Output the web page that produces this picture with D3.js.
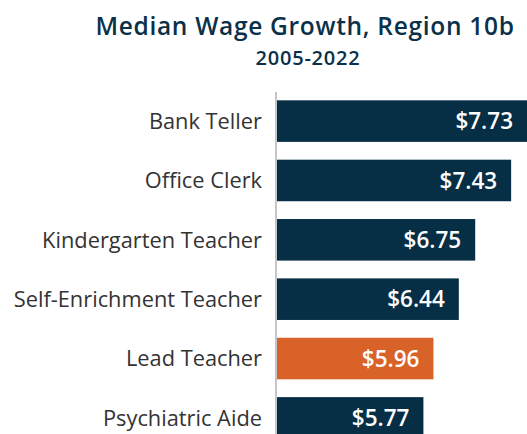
<!DOCTYPE html>
<html>
<head>
<meta charset="utf-8">
<script src="https://cdn.jsdelivr.net/npm/d3@7"></script>
<style>
  html, body { margin: 0; padding: 0; background: #fff; }
  svg { display: block; font-family: "Open Sans", sans-serif; }
</style>
</head>
<body>
<svg id="chart" width="527" height="434"></svg>
<script>
const categories = ["Bank Teller", "Office Clerk", "Kindergarten Teacher", "Self-Enrichment Teacher", "Lead Teacher", "Psychiatric Aide"];
const values = [7.73, 7.43, 6.75, 6.44, 5.96, 5.77];
const highlight = ["Lead Teacher"];
const title = "Median Wage Growth, Region 10b";
const subtitle = "2005-2022";

const svg = d3.select("#chart");
const navy = "#062e45";
const orange = "#d96228";

const x = d3.scaleLinear().domain([3, 7.73]).range([277, 527]);
const y = d3.scaleBand().domain(categories).range([92, 447]).paddingInner(0.3).paddingOuter(0.14);

svg.append("text")
  .attr("x", 305).attr("y", 34.5)
  .attr("text-anchor", "middle")
  .attr("fill", "#0b3049")
  .attr("font-size", 24.5).attr("font-weight", 600)
  .attr("letter-spacing", 0.7)
  .text(title);
svg.append("text")
  .attr("x", 308).attr("y", 65)
  .attr("text-anchor", "middle")
  .attr("fill", "#0b3049")
  .attr("font-size", 20).attr("font-weight", 600)
  .attr("letter-spacing", 0.8)
  .text(subtitle);

svg.selectAll("rect.bar").data(categories).join("rect")
  .attr("class", "bar")
  .attr("x", x(3))
  .attr("y", d => y(d))
  .attr("width", (d, i) => x(values[i]) - x(3))
  .attr("height", y.bandwidth())
  .attr("fill", d => highlight.includes(d) ? orange : navy);

svg.selectAll("text.val").data(categories).join("text")
  .attr("class", "val")
  .attr("x", (d, i) => x(values[i]) - 14)
  .attr("y", d => y(d) + y.bandwidth() / 2)
  .attr("dy", "0.36em")
  .attr("text-anchor", "end")
  .attr("fill", "#fff")
  .attr("font-size", 22.5).attr("font-weight", 600)
  .text((d, i) => "$" + values[i].toFixed(2));

const axis = d3.axisLeft(y).tickSize(0).tickPadding(14);
const g = svg.append("g").attr("transform", "translate(276,0)").call(axis);
g.select(".domain").attr("stroke", "#b3b3b3").attr("stroke-width", 1.5).attr("d", "M0,92V434");
g.selectAll(".tick text")
  .attr("fill", "#333")
  .attr("dy", "0.36em")
  .attr("font-size", 21.8)
  .attr("font-family", "'Open Sans', sans-serif");
</script>
</body>
</html>
